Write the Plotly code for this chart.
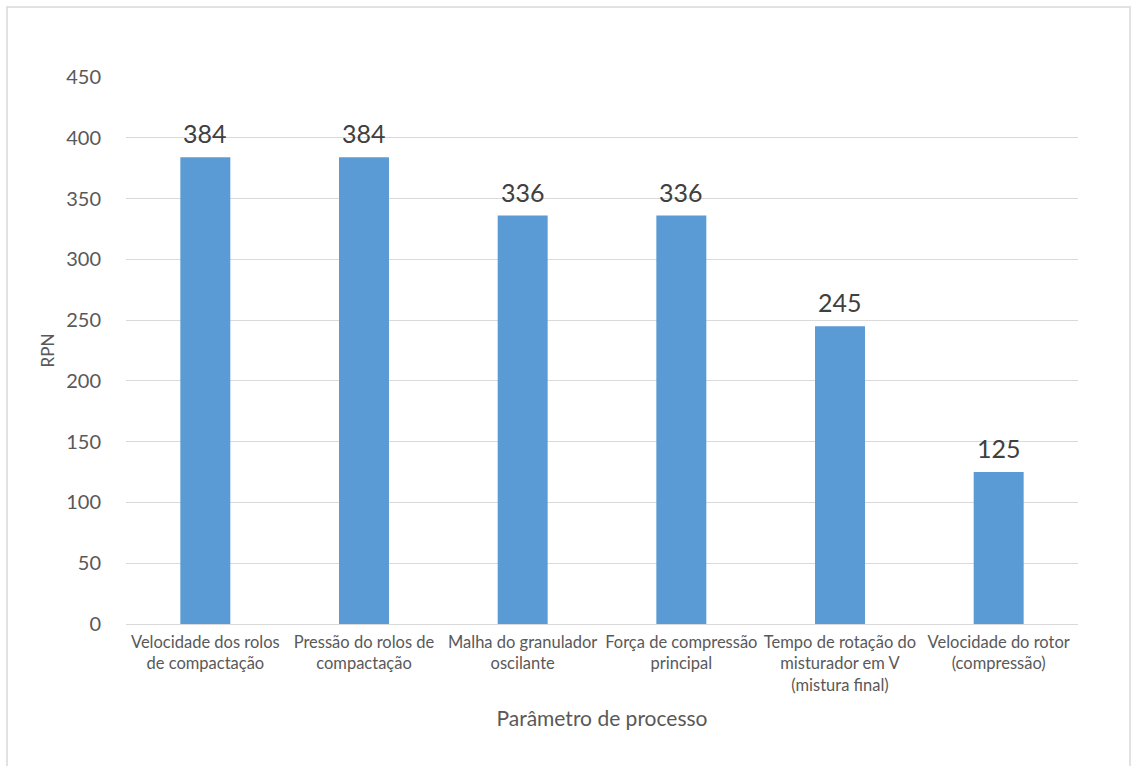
import plotly.graph_objects as go

# Process parameters and their risk priority numbers
categories = [
    "Velocidade dos rolos<br>de compactação",
    "Pressão do rolos de<br>compactação",
    "Malha do granulador<br>oscilante",
    "Força de compressão<br>principal",
    "Tempo de rotação do<br>misturador em V<br>(mistura final)",
    "Velocidade do rotor<br>(compressão)",
]
rpn_values = [384, 384, 336, 336, 245, 125]
y_ticks = [0, 50, 100, 150, 200, 250, 300, 350, 400, 450]

FONT = "Lato, 'Open Sans', sans-serif"
GRAY = "#595959"

W, H = 1132, 766
ML, MR, MT, MB = 126, 54, 77, 142
pw, ph = W - ML - MR, H - MT - MB

xs = list(range(len(categories)))

fig = go.Figure(
    go.Bar(
        x=xs,
        y=rpn_values,
        marker=dict(color="#5B9BD5", line=dict(width=0)),
        width=0.315,
        hoverinfo="x+y",
    )
)

# value labels above each bar
for xi, v in zip(xs, rpn_values):
    fig.add_annotation(
        x=xi, y=v, text=str(v), showarrow=False,
        yanchor="bottom", yshift=7,
        font=dict(family=FONT, size=25, color="#404040"),
    )

# outer chart frame (light gray), expressed in paper coords relative to the plot area
def px_x(p):
    return (p - ML) / pw

def px_y(p):
    return (H - MB - p) / ph

fig.add_shape(
    type="rect", xref="paper", yref="paper",
    x0=px_x(7), x1=px_x(1130), y0=px_y(800), y1=px_y(7),
    line=dict(color="#d9d9d9", width=1.5), fillcolor="rgba(0,0,0,0)",
    layer="below",
)

fig.update_layout(
    width=W, height=H,
    margin=dict(l=ML, r=MR, t=MT, b=MB),
    paper_bgcolor="white", plot_bgcolor="white",
    showlegend=False,
    font=dict(family=FONT, color=GRAY),
    xaxis=dict(
        tickmode="array",
        tickvals=xs,
        ticktext=categories,
        range=[-0.5, len(categories) - 0.5],
        showgrid=False, zeroline=False,
        showline=True, linecolor="#d9d9d9", linewidth=1,
        ticks="outside", ticklen=3, tickcolor="rgba(0,0,0,0)",
        tickfont=dict(family=FONT, size=16.5, color=GRAY),
        title=dict(text="Parâmetro de processo", font=dict(family=FONT, size=21, color=GRAY), standoff=17),
    ),
    yaxis=dict(
        range=[0, 450],
        tickmode="array", tickvals=y_ticks,
        showgrid=True, gridcolor="#d9d9d9", gridwidth=1,
        zeroline=False, showline=False,
        ticks="outside", ticklen=20, tickcolor="rgba(0,0,0,0)",
        tickfont=dict(family=FONT, size=20, color=GRAY),
        title=dict(text="RPN", font=dict(family=FONT, size=17, color=GRAY), standoff=7),
    ),
)

fig.write_html("out.html")
